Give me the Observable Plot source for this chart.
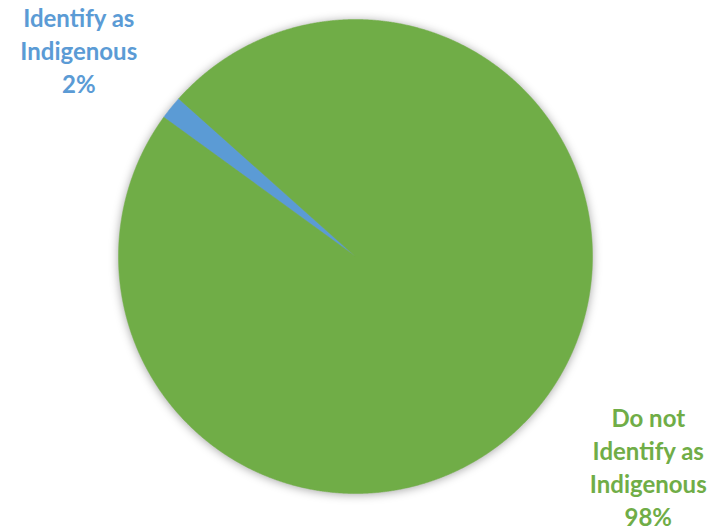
<!DOCTYPE html>
<html>
<head>
<meta charset="utf-8">
<script src="https://cdn.jsdelivr.net/npm/d3@7"></script>
<script src="https://cdn.jsdelivr.net/npm/@observablehq/plot@0.6"></script>
<style>
  html, body { margin: 0; padding: 0; background: #fff; }
</style>
</head>
<body>
<div id="chart"></div>
<script>
// Data
const categories = ["Identify as Indigenous", "Do not Identify as Indigenous"];
const values = [1.6, 98.4];
const colors = ["#5B9BD5", "#70AD47"];

const firstSliceAngle = -54; // degrees, clockwise from 12 o'clock

const pie = d3.pie().sort(null).value(d => d.value)
  .startAngle(firstSliceAngle * Math.PI / 180)
  .endAngle((firstSliceAngle + 360) * Math.PI / 180);
const slices = pie(categories.map((c, i) => ({category: c, value: values[i], color: colors[i]})));

// polygon points per slice in unit-circle data coordinates
const pts = [];
for (const s of slices) {
  const cat = s.data.category;
  pts.push({category: cat, x: 0, y: 0});
  const n = Math.max(2, Math.ceil((s.endAngle - s.startAngle) / (Math.PI / 720)));
  for (let k = 0; k <= n; k++) {
    const a = s.startAngle + (s.endAngle - s.startAngle) * k / n;
    pts.push({category: cat, x: Math.sin(a), y: Math.cos(a)});
  }
  pts.push({category: cat, x: 0, y: 0});
}

const total = d3.sum(values);
const labels = slices.map(s => {
  const a = (s.startAngle + s.endAngle) / 2;
  const f = 1.5;
  return {
    category: s.data.category,
    text: s.data.category.replace("Do not ", "Do not\n").replace(" as ", " as\n") + "\n" + Math.round(s.data.value / total * 100) + "%",
    x: Math.sin(a) * f, y: Math.cos(a) * f, color: s.data.color
  };
});

const colorScale = {domain: categories, range: colors};
const font = {fontFamily: "Lato, 'Open Sans', sans-serif", fontWeight: 700, fontSize: 24, lineHeight: 1.375};

const chart = Plot.plot({
  width: 715,
  height: 530,
  marginLeft: 118,
  marginRight: 123,
  marginTop: 19,
  marginBottom: 37,
  x: {domain: [-1, 1], axis: null},
  y: {domain: [-1, 1], axis: null},
  color: colorScale,
  style: {overflow: "visible", background: "#fff"},
  marks: [
    Plot.line(pts, {x: "x", y: "y", z: "category", fill: "category", stroke: "category", strokeWidth: 0.5, curve: "linear"}),
    Plot.text(labels.filter(d => d.category === categories[0]), {
      x: "x", y: "y", text: "text", fill: d => d.color, ...font,
      textAnchor: "middle", lineAnchor: "middle", dx: 0, dy: 16
    }),
    Plot.text(labels.filter(d => d.category === categories[1]), {
      x: "x", y: "y", text: "text", fill: d => d.color, ...font,
      textAnchor: "middle", lineAnchor: "middle", dx: 16, dy: -14
    })
  ]
});

d3.select(chart).selectAll("g[aria-label='line']")
  .style("filter", "drop-shadow(0px 1px 5px rgba(0,0,0,0.35))");
document.getElementById("chart").appendChild(chart);
</script>
</body>
</html>
